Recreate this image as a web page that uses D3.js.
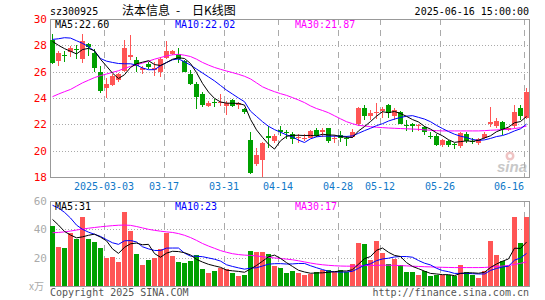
<!DOCTYPE html>
<html>
<head>
<meta charset="utf-8">
<script src="https://cdn.jsdelivr.net/npm/d3@7"></script>
<style>
body { margin: 0; background: #fff; }
svg { display: block; }
text { font-family: "DejaVu Sans Mono", "Liberation Mono", monospace; font-size: 10px; }
</style>
</head>
<body>
<div id="chart"></div>
<script>
// trading days (2025)
var dates = ["02-18","02-19","02-20","02-21","02-24","02-25","02-26","02-27","02-28",
  "03-03","03-04","03-05","03-06","03-07","03-10","03-11","03-12","03-13","03-14",
  "03-17","03-18","03-19","03-20","03-21","03-24","03-25","03-26","03-27","03-28",
  "03-31","04-01","04-02","04-03","04-07","04-08","04-09","04-10","04-11",
  "04-14","04-15","04-16","04-17","04-18","04-21","04-22","04-23","04-24","04-25",
  "04-28","04-29","04-30","05-06","05-07","05-08","05-09",
  "05-12","05-13","05-14","05-15","05-16","05-19","05-20","05-21","05-22","05-23",
  "05-26","05-27","05-28","05-29","05-30","06-03","06-04","06-05","06-06",
  "06-09","06-10","06-11","06-12","06-13","06-16"];

var open = [28.38,26.81,27.3,27.52,27.75,26.94,28.1,27.44,26.0,24.79,
  25.0,25.35,26.06,27.1,26.9,26.1,26.6,26.1,26.0,27.05,
  27.35,27.35,26.8,25.85,25.1,24.3,23.4,23.7,23.6,23.4,
  23.85,23.5,23.15,20.8,19.0,19.3,21.1,20.7,21.55,21.45,
  21.25,20.95,20.9,21.0,21.6,21.4,21.7,20.85,21.2,21.0,
  21.05,22.0,23.25,22.65,22.85,22.98,23.5,22.6,22.9,21.95,
  22.0,21.85,21.8,21.15,21.15,20.45,20.7,20.5,20.35,21.25,
  20.75,20.6,20.95,22.0,21.9,22.15,21.6,21.9,23.25,22.5];
var high = [28.85,27.57,27.6,27.97,28.0,28.88,28.2,27.7,26.4,25.55,
  25.8,25.9,28.4,28.8,27.1,26.4,26.75,26.7,27.15,28.3,
  27.65,27.8,26.9,26.1,25.2,24.45,23.75,23.9,24.3,23.8,
  23.95,23.7,23.25,21.4,20.2,20.65,21.9,21.25,21.9,21.55,
  21.4,21.3,21.25,21.55,21.7,21.75,21.75,21.2,21.5,21.1,
  21.65,23.3,23.5,23.1,23.6,23.35,23.55,23.25,23.0,22.3,
  22.1,22.05,21.9,21.4,21.3,20.9,20.8,20.6,21.4,21.4,
  21.0,20.95,21.4,23.35,22.5,22.25,21.75,23.5,23.5,24.75];
var low = [26.57,26.46,26.75,27.12,27.0,26.69,27.2,26.0,24.4,23.98,
  24.9,25.2,25.95,26.85,26.0,25.85,26.2,25.7,25.6,26.95,
  27.25,26.65,25.95,24.95,23.15,23.3,23.3,23.3,23.4,22.7,
  23.3,23.2,22.75,18.2,18.85,18.0,20.2,20.6,21.1,20.85,
  20.5,20.6,20.7,20.95,21.05,21.05,20.55,20.55,20.65,20.35,
  20.95,21.9,22.3,22.35,22.4,22.5,22.5,22.35,22.0,21.5,
  21.4,21.5,21.2,20.9,20.35,20.3,20.25,20.1,20.2,20.6,
  20.5,20.45,20.85,21.8,21.7,21.2,21.5,21.75,22.3,22.4];
var close = [26.64,27.42,27.2,27.82,27.65,28.33,27.85,26.31,24.54,25.05,
  25.68,25.8,27.77,27.3,26.45,26.3,26.35,26.3,26.95,27.55,
  27.55,26.97,26.0,25.05,24.1,23.45,23.65,23.6,23.7,23.65,
  23.4,23.6,22.95,18.3,19.65,20.55,21.0,21.1,21.45,21.35,
  20.9,21.05,21.0,21.5,21.15,21.55,20.75,20.95,20.95,20.9,
  21.45,23.25,22.6,22.85,22.95,23.15,22.85,23.1,22.05,21.9,
  21.9,21.95,21.4,21.05,20.45,20.8,20.45,20.4,21.35,20.7,
  20.65,20.85,21.3,22.15,22.25,21.55,21.7,22.95,22.6,24.45];

// price moving averages as drawn
var ma5 = [28.3,28.0,27.75,27.55,27.35,27.68,27.77,27.59,26.94,26.42,
  25.89,25.48,25.77,26.32,26.6,26.72,26.83,26.54,26.47,26.69,
  26.94,27.06,27.0,26.62,25.93,25.11,24.45,23.97,23.7,23.61,
  23.6,23.59,23.46,22.38,21.58,21.01,20.49,20.12,20.75,21.09,
  21.16,21.17,21.15,21.16,21.12,21.25,21.19,21.18,21.07,21.02,
  21.0,21.5,21.83,22.21,22.62,22.96,22.88,22.98,22.82,22.61,
  22.36,22.18,21.84,21.64,21.35,21.13,20.83,20.63,20.69,20.74,
  20.71,20.79,20.97,21.13,21.44,21.62,21.79,22.12,22.21,22.6];
var ma10 = [28.45,28.5,28.58,28.55,28.35,28.15,27.9,27.55,27.0,26.8,
  26.7,26.62,26.6,26.6,26.5,26.28,26.15,26.15,26.45,26.7,
  26.9,26.97,26.75,26.5,26.2,25.9,25.6,25.3,24.95,24.6,
  24.3,24.0,23.72,23.0,22.6,22.2,21.85,21.6,21.4,21.2,
  21.05,20.8,20.62,20.9,21.05,21.1,21.1,21.1,21.1,21.08,
  21.12,21.32,21.52,21.7,21.9,22.05,22.25,22.4,22.52,22.62,
  22.66,22.53,22.4,22.2,21.92,21.68,21.45,21.25,21.1,21.0,
  20.85,20.78,20.82,20.93,21.07,21.15,21.3,21.5,21.66,22.02];
var ma30 = [24.1,24.3,24.48,24.65,24.9,25.15,25.35,25.55,25.7,25.82,
  25.95,26.07,26.25,26.4,26.52,26.65,26.8,26.95,27.07,27.2,
  27.28,27.32,27.25,27.15,26.95,26.7,26.5,26.32,26.18,26.05,
  25.93,25.8,25.65,25.45,25.15,24.85,24.65,24.48,24.33,24.2,
  24.03,23.85,23.65,23.4,23.2,23.05,22.88,22.65,22.42,22.2,
  22.05,21.92,21.88,21.82,21.78,21.75,21.72,21.7,21.68,21.66,
  21.64,21.62,21.58,21.55,21.52,21.5,21.5,21.5,21.5,21.5,
  21.5,21.5,21.52,21.55,21.57,21.6,21.62,21.68,21.75,21.87];

// volume, 10k lots
var volume = [42.5,27.7,27.0,37.1,32.9,48.9,32.9,31.2,26.5,19.9,
  20.6,17.0,52.5,39.0,22.5,14.7,18.2,19.9,26.0,37.1,
  21.3,17.0,16.3,17.7,21.7,11.8,9.2,10.6,12.8,11.8,
  9.2,6.9,7.6,24.6,24.1,24.1,22.5,13.9,13.0,9.2,
  10.4,9.2,7.6,8.7,9.9,11.1,11.1,9.9,11.1,9.9,
  15.4,30.5,29.6,18.7,31.7,23.4,15.4,18.9,14.7,9.9,
  9.9,7.6,10.4,6.9,7.6,7.6,7.6,6.9,14.7,9.9,
  7.6,5.9,10.6,31.7,21.7,17.5,13.9,48.9,30.5,48.9];
var vma5 = [47,43,38.5,36,34,34.7,35.8,36.6,34.5,31.9,
  26.2,23.0,27.3,29.8,30.3,29.1,29.4,22.9,20.3,23.2,
  24.5,24.3,23.5,21.9,18.8,16.9,15.3,14.2,13.2,11.2,
  10.7,10.3,9.7,12.0,14.5,17.5,20.6,21.8,19.5,16.5,
  13.8,11.1,9.9,9.0,9.2,9.3,9.7,10.1,10.6,10.6,
  11.5,15.4,19.3,20.8,25.2,26.8,23.8,21.6,20.8,16.5,
  13.8,12.2,10.5,8.9,8.5,8.0,8.0,7.3,8.9,9.3,
  9.3,9.0,9.7,13.1,15.5,17.5,19.1,26.7,26.5,31];
var vma10 = [57,55,52,48,43,40,38,36.5,35,32.7,
  30.5,29.4,31.9,32.1,31.1,27.7,26.2,25.1,25.0,26.75,
  26.8,26.8,23.2,21.1,21.0,20.7,19.8,18.9,17.6,15.0,
  13.8,12.8,11.9,12.6,12.9,14.1,15.4,15.75,15.8,15.5,
  15.6,15.9,15.9,14.3,12.9,11.6,10.4,10.0,9.8,9.9,
  10.4,12.5,14.7,15.7,17.9,19.1,19.6,20.5,20.8,20.8,
  20.3,18.0,16.1,14.9,12.5,10.9,10.1,8.9,8.9,8.9,
  8.7,8.5,8.5,11.0,12.4,13.4,14.0,18.2,19.8,23];
var vma30 = [37.6,37.8,38.2,38.8,39.5,40.2,40.8,41.3,41.8,42.2,
  42.6,42.9,43.0,42.8,42.0,41.0,40.0,39.3,38.7,38.2,
  37.8,37.0,35.8,34.2,32.2,30.0,28.2,26.6,25.0,23.8,
  22.8,22.2,21.8,21.6,21.2,20.7,20.2,19.8,19.4,19.0,
  18.5,17.8,17.0,16.2,15.5,15.0,14.6,14.3,14.1,14.0,
  14.0,14.2,14.4,14.5,14.6,14.7,14.7,14.6,14.4,14.2,
  14.0,13.8,13.6,13.5,13.3,13.2,13.1,13.0,13.0,13.0,
  13.0,13.0,13.1,13.4,13.8,14.1,14.5,15.2,16.0,17.0];

var tickDates = ["03-03","03-17","03-31","04-14","04-28","05-12","05-26","06-16"];
var tickLabels = ["2025-03-03","03-17","03-31","04-14","04-28","05-12","05-26","06-16"];
var priceTicks = [18, 20, 22, 24, 26, 28, 30];
var volTicks = [20, 40, 60];

var width = 545, height = 300;
var left = 50, right = 529;
var priceTop = 19, priceBottom = 177;
var volTop = 201, volBottom = 286;

var upColor = "#ff5555", downColor = "#00a000";
var gridColor = "#aaaaaa", frameColor = "#999999";

var svg = d3.select("#chart").append("svg")
  .attr("width", width)
  .attr("height", height);

var x = d3.scaleBand().domain(dates).range([left, left + dates.length * 6]);
var bodyW = 5;
var yP = d3.scaleLinear().domain([18, 30]).range([priceBottom, priceTop]);
var yV = d3.scaleLinear().domain([0, 60]).range([volBottom, volTop]);

var candles = dates.map(function(d, i) {
  return { date: d, open: open[i], high: high[i], low: low[i], close: close[i], vol: volume[i] };
});
function colorOf(d) { return d.close >= d.open ? upColor : downColor; }

// header
svg.append("text").attr("x", 50).attr("y", 15).text("sz300925");
var title = svg.append("text").attr("y", 15)
  .style("font-family", "'Noto Sans CJK SC', sans-serif").style("font-size", "12px");
title.append("tspan").attr("x", 122).text("法本信息");
title.append("tspan").attr("x", 176).text("-");
title.append("tspan").attr("x", 192).text("日K线图");
svg.append("text").attr("x", 529).attr("y", 15).attr("text-anchor", "end")
  .text("2025-06-16 15:00:00");

// sina watermark
var wm = svg.append("g");
wm.append("circle").attr("cx", 510).attr("cy", 156).attr("r", 4.5).attr("fill", "#efc4c4");
wm.append("circle").attr("cx", 510).attr("cy", 156).attr("r", 2).attr("fill", "#fff");
wm.append("text").attr("x", 497).attr("y", 172)
  .style("font-family", "'Liberation Sans', sans-serif").style("font-size", "15px")
  .style("font-weight", "bold").style("font-style", "italic")
  .attr("fill", "#c8c8c8").text("sina");

function panel(top, bottom, gridVals, yScale) {
  var g = svg.append("g");
  g.selectAll("line.h").data(gridVals).enter().append("line")
    .attr("x1", left).attr("x2", right)
    .attr("y1", function(v) { return Math.round(yScale(v)) + 0.5; })
    .attr("y2", function(v) { return Math.round(yScale(v)) + 0.5; })
    .attr("stroke", gridColor).attr("stroke-dasharray", "1,2");
  g.selectAll("line.v").data(tickDates).enter().append("line")
    .attr("x1", function(d) { return x(d) + 0.5; })
    .attr("x2", function(d) { return x(d) + 0.5; })
    .attr("y1", top).attr("y2", bottom)
    .attr("stroke", gridColor).attr("stroke-dasharray", "6,5");
  g.append("rect")
    .attr("x", left + 0.5).attr("y", top + 0.5)
    .attr("width", right - left).attr("height", bottom - top)
    .attr("fill", "none").attr("stroke", frameColor);
}
panel(priceTop, priceBottom, [20, 22, 24, 26, 28], yP);
panel(volTop, volBottom, [20, 40], yV);

// price axis
var pAxis = svg.append("g").attr("transform", "translate(" + left + ",0)")
  .call(d3.axisLeft(yP).tickValues(priceTicks).tickSize(0).tickPadding(3).tickFormat(d3.format("d")));
pAxis.select(".domain").remove();
pAxis.selectAll("text").attr("fill", "#ff0000")
  .style("font-family", "'DejaVu Sans Mono', monospace").style("font-size", "11px");

// volume axis
var vAxis = svg.append("g").attr("transform", "translate(" + left + ",0)")
  .call(d3.axisLeft(yV).tickValues(volTicks).tickSize(0).tickPadding(3).tickFormat(d3.format("d")));
vAxis.select(".domain").remove();
vAxis.selectAll("text").attr("fill", "#aaaaaa")
  .style("font-family", "'DejaVu Sans Mono', monospace").style("font-size", "11px");
svg.append("text").attr("x", 44).attr("y", 290).attr("text-anchor", "end")
  .attr("fill", "#aaaaaa")
  .style("font-family", "'Noto Sans CJK SC', sans-serif").style("font-size", "10px")
  .text("x万");

// date labels
svg.selectAll("text.date").data(tickDates).enter().append("text")
  .attr("class", "date")
  .attr("x", function(d) { return x(d); })
  .attr("y", 189.5)
  .attr("text-anchor", function(d) { return x(d) + 16 > right ? "end" : "middle"; })
  .attr("fill", "#1078c8")
  .text(function(d, i) { return tickLabels[i]; });

// candles
var cg = svg.append("g").attr("shape-rendering", "crispEdges");
cg.selectAll("line.wick").data(candles).enter().append("line")
  .attr("x1", function(d) { return x(d.date) + 2.5; })
  .attr("x2", function(d) { return x(d.date) + 2.5; })
  .attr("y1", function(d) { return yP(d.high); })
  .attr("y2", function(d) { return yP(d.low); })
  .attr("stroke", colorOf);
cg.selectAll("rect.body").data(candles).enter().append("rect")
  .attr("x", function(d) { return x(d.date); })
  .attr("width", bodyW)
  .attr("y", function(d) { return yP(Math.max(d.open, d.close)); })
  .attr("height", function(d) { return Math.max(1, Math.abs(yP(d.open) - yP(d.close))); })
  .attr("fill", colorOf);

// volume bars
cg.selectAll("rect.vol").data(candles).enter().append("rect")
  .attr("x", function(d) { return x(d.date); })
  .attr("width", bodyW)
  .attr("y", function(d) { return yV(d.vol); })
  .attr("height", function(d) { return volBottom - yV(d.vol); })
  .attr("fill", colorOf);

function drawMA(values, yScale, color) {
  var line = d3.line()
    .x(function(v, i) { return x(dates[i]) + 2.5; })
    .y(function(v) { return yScale(v); });
  svg.append("path")
    .datum(values)
    .attr("fill", "none")
    .attr("stroke", color)
    .attr("stroke-width", 1)
    .attr("d", line);
}
drawMA(ma30, yP, "#ff00ff");
drawMA(ma10, yP, "#0000ff");
drawMA(ma5, yP, "#000000");
drawMA(vma30, yV, "#ff00ff");
drawMA(vma10, yV, "#0000ff");
drawMA(vma5, yV, "#000000");

// MA legends
var last = dates.length - 1;
function legend(y, items) {
  svg.selectAll(null).data(items).enter().append("text")
    .attr("x", function(d) { return d.x; })
    .attr("y", y)
    .attr("fill", function(d) { return d.color; })
    .text(function(d) { return d.label; });
}
legend(27.5, [
  { x: 55, color: "#000000", label: "MA5:" + ma5[last].toFixed(2) },
  { x: 175, color: "#0000ff", label: "MA10:" + ma10[last].toFixed(2) },
  { x: 295, color: "#ff00ff", label: "MA30:" + ma30[last].toFixed(2) }
]);
legend(209.5, [
  { x: 55, color: "#000000", label: "MA5:" + Math.round(vma5[last]) },
  { x: 175, color: "#0000ff", label: "MA10:" + Math.round(vma10[last]) },
  { x: 295, color: "#ff00ff", label: "MA30:" + Math.round(vma30[last]) }
]);

// footer
svg.append("text").attr("x", 50).attr("y", 296).attr("fill", "#555555")
  .text("Copyright 2025 SINA.COM");
svg.append("text").attr("x", 529).attr("y", 296).attr("text-anchor", "end").attr("fill", "#555555")
  .text("http://finance.sina.com.cn");
</script>
</body>
</html>
